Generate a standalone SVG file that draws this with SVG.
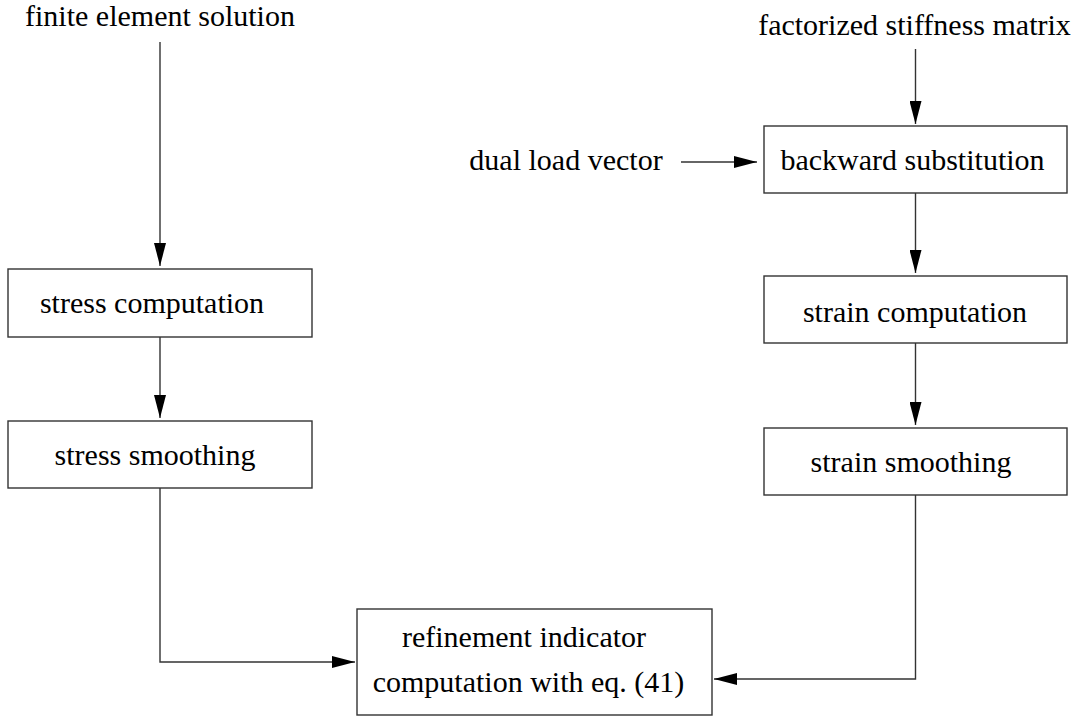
<svg xmlns="http://www.w3.org/2000/svg" width="1078" height="718" viewBox="0 0 1078 718">
<defs>
<style>
.box{fill:#fff;stroke:#333;stroke-width:1.4}
.t{font-family:"Liberation Serif","Times New Roman",serif;font-size:30px;fill:#000;text-anchor:middle}
.c{fill:none;stroke:#333;stroke-width:1.4}
</style>
<marker id="ah" viewBox="0 0 23 12" refX="23" refY="6" markerWidth="23" markerHeight="12" markerUnits="userSpaceOnUse" orient="auto">
<path d="M0,0 L23,6 L0,12 Z" fill="#000"/>
</marker>
</defs>
<rect width="1078" height="718" fill="#fff"/>
<g id="connectors">
<line class="c" x1="160" y1="42" x2="160" y2="266" marker-end="url(#ah)"/>
<line class="c" x1="160" y1="337" x2="160" y2="418" marker-end="url(#ah)"/>
<polyline class="c" points="160,488 160,662 355,662" marker-end="url(#ah)"/>
<line class="c" x1="915.5" y1="49" x2="915.5" y2="124" marker-end="url(#ah)"/>
<line class="c" x1="681" y1="162" x2="757" y2="162" marker-end="url(#ah)"/>
<line class="c" x1="915.5" y1="193" x2="915.5" y2="273" marker-end="url(#ah)"/>
<line class="c" x1="915.5" y1="343" x2="915.5" y2="425" marker-end="url(#ah)"/>
<polyline class="c" points="915.5,495 915.5,679 714,679" marker-end="url(#ah)"/>
</g>
<g id="finite-element-solution"><text class="t" x="160" y="26">finite element solution</text></g>
<g id="factorized-stiffness-matrix"><text class="t" x="914.5" y="35">factorized stiffness matrix</text></g>
<g id="dual-load-vector"><text class="t" x="566" y="170">dual load vector</text></g>
<g id="stress-computation"><rect class="box" x="8" y="269" width="304" height="68"/><text class="t" x="152" y="313">stress computation</text></g>
<g id="stress-smoothing"><rect class="box" x="8" y="421" width="304" height="67"/><text class="t" x="155" y="465">stress smoothing</text></g>
<g id="backward-substitution"><rect class="box" x="764" y="126" width="303" height="67"/><text class="t" x="912.5" y="170">backward substitution</text></g>
<g id="strain-computation"><rect class="box" x="764" y="276" width="303" height="67"/><text class="t" x="915" y="322">strain computation</text></g>
<g id="strain-smoothing"><rect class="box" x="764" y="428" width="303" height="67"/><text class="t" x="911" y="472">strain smoothing</text></g>
<g id="refinement-indicator"><rect class="box" x="357" y="609" width="355" height="106"/><text class="t" x="524" y="647">refinement indicator</text><text class="t" x="528.5" y="692">computation with eq. (41)</text></g>
</svg>
